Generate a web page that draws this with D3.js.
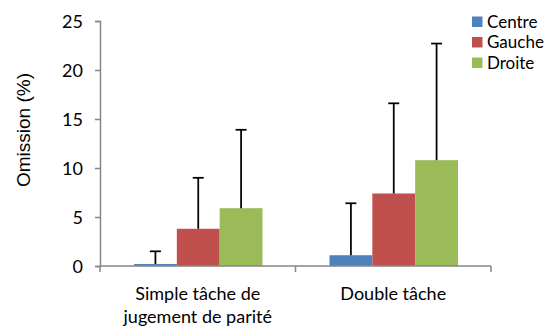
<!doctype html>
<html>
<head>
<meta charset="utf-8">
<title>Omission</title>
<script src="https://cdn.jsdelivr.net/npm/d3@7"></script>
<style>
  body { margin: 0; background: #fff; }
  svg { display: block; }
  .lbl { font-family: Lato, "Open Sans", sans-serif; fill: #000; }
</style>
</head>
<body>
<svg width="545" height="329"></svg>
<script>
// data
var categories = [["Simple tâche de", "jugement de parité"], ["Double tâche"]];
var seriesNames = ["Centre", "Gauche", "Droite"];
var centre = [0.2, 1.1];
var gauche = [3.8, 7.4];
var droite = [5.9, 10.8];
var centreErr = [1.3, 5.3];
var gaucheErr = [5.2, 9.2];
var droiteErr = [8.0, 11.9];
var yTicks = [0, 5, 10, 15, 20, 25];
var colors = ["#4F81BD", "#C0504D", "#9BBB59"];

var svg = d3.select("svg");
var plotLeft = 100, plotRight = 491, plotTop = 21, plotBottom = 266;

var catKeys = categories.map(function(c) { return c.join(" "); });
var x0 = d3.scaleBand().domain(catKeys).range([plotLeft, plotRight]);
var x1 = d3.scaleBand().domain(seriesNames)
    .range([34, x0.bandwidth() - 33]);
var y = d3.scaleLinear().domain([0, 25]).range([plotBottom, plotTop]);

var values = [centre, gauche, droite];
var errs = [centreErr, gaucheErr, droiteErr];

// bars
seriesNames.forEach(function(s, si) {
    catKeys.forEach(function(c, ci) {
        svg.append("rect")
            .attr("x", x0(c) + x1(s))
            .attr("y", y(values[si][ci]))
            .attr("width", x1.bandwidth())
            .attr("height", y(0) - y(values[si][ci]))
            .attr("fill", colors[si]);
    });
});

// axes
var yAxis = d3.axisLeft(y).tickValues(yTicks).tickSize(5).tickPadding(12);
var gy = svg.append("g").attr("transform", "translate(" + plotLeft + ",0)").call(yAxis);
gy.select(".domain").attr("stroke", "#868686").attr("stroke-width", 1.5);
gy.selectAll(".tick line").attr("stroke", "#868686").attr("stroke-width", 1.5);
gy.selectAll(".tick text").attr("class", "lbl").attr("font-size", 18).attr("dy", "0.34em");

var gx = svg.append("g").attr("transform", "translate(0," + plotBottom + ")");
gx.append("line").attr("x1", plotLeft).attr("x2", plotRight)
    .attr("stroke", "#868686").attr("stroke-width", 1.5);
[plotLeft].concat(catKeys.map(function(c) { return x0(c) + x0.bandwidth(); })).forEach(function(t) {
    gx.append("line").attr("x1", t).attr("x2", t).attr("y1", 0).attr("y2", 6)
        .attr("stroke", "#868686").attr("stroke-width", 1.5);
});

// error bars drawn over the axis
seriesNames.forEach(function(s, si) {
    catKeys.forEach(function(c, ci) {
        var cx = x0(c) + x1(s) + x1.bandwidth() / 2;
        var yt = y(values[si][ci] + errs[si][ci]);
        svg.append("line").attr("x1", cx).attr("x2", cx)
            .attr("y1", y(values[si][ci])).attr("y2", yt)
            .attr("stroke", "#000").attr("stroke-width", 1.75);
        svg.append("line").attr("x1", cx - 5.5).attr("x2", cx + 5.5)
            .attr("y1", yt).attr("y2", yt)
            .attr("stroke", "#000").attr("stroke-width", 1.75);
    });
});

// category labels
categories.forEach(function(lines, ci) {
    var t = svg.append("text").attr("class", "lbl").attr("font-size", 18)
        .attr("text-anchor", "middle")
        .attr("x", x0(catKeys[ci]) + x0.bandwidth() / 2)
        .attr("y", 300);
    lines.forEach(function(l, li) {
        t.append("tspan").attr("x", x0(catKeys[ci]) + x0.bandwidth() / 2)
            .attr("dy", li === 0 ? 0 : 23).text(l);
    });
});

// y title
svg.append("text")
    .attr("transform", "translate(30,130) rotate(-90)")
    .attr("text-anchor", "middle")
    .attr("font-family", "'Liberation Sans', Arial, sans-serif")
    .attr("font-size", 19)
    .text("Omission (%)");

// legend
var lg = svg.append("g").attr("transform", "translate(472,0)");
seriesNames.forEach(function(s, i) {
    var cy = 21.5 + i * 20.5;
    lg.append("rect").attr("x", 0).attr("y", cy - 5).attr("width", 10.5).attr("height", 10.5)
        .attr("fill", colors[i]);
    lg.append("text").attr("class", "lbl").attr("font-size", 17)
        .attr("x", 15).attr("y", cy).attr("dy", "0.36em").text(s);
});
</script>
</body>
</html>
